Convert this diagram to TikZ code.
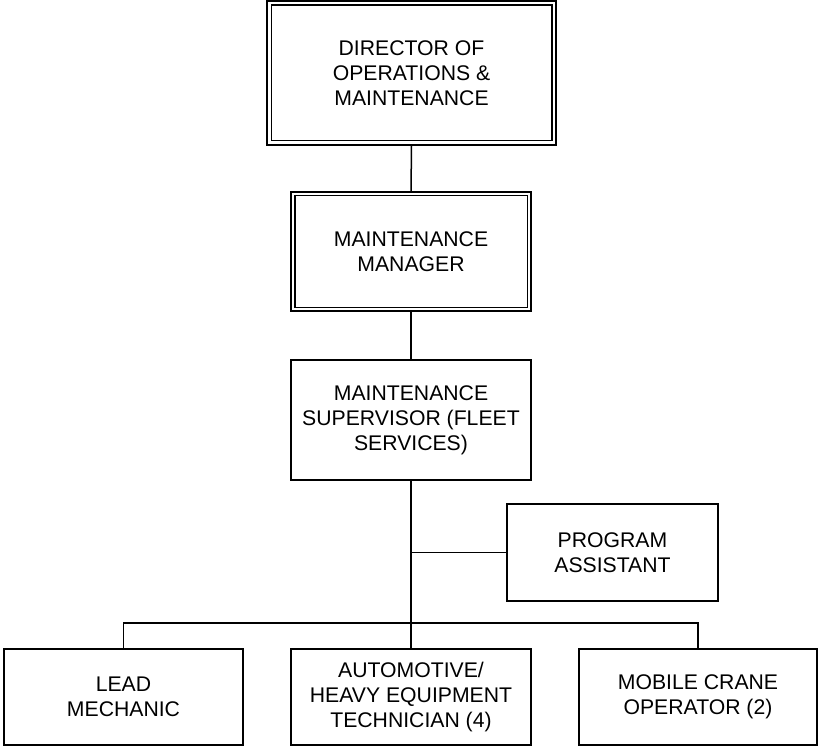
\documentclass[tikz,border=0pt]{standalone}
\usepackage{fontspec}
\setmainfont{Liberation Sans}
\begin{document}
\begin{tikzpicture}[x=1pt,y=-1pt,
  box/.style={draw, line width=1.5pt, inner sep=0pt, align=center,
    font=\fontsize{21.2}{24.8}\selectfont},
  conn/.style={line width=1.5pt}]
\useasboundingbox (0,0) rectangle (819,746);
\node[box, minimum width=289pt, minimum height=144pt] (dir) at (411.5,73) {DIRECTOR OF\\OPERATIONS \&\\MAINTENANCE};
\draw[line width=1.5pt] ([shift={(5pt,-5pt)}]dir.north west) rectangle ([shift={(-5pt,5pt)}]dir.south east);
\node[box, minimum width=240pt, minimum height=119pt] (mgr) at (411,251.5) {MAINTENANCE\\MANAGER};
\draw[line width=1.5pt] ([shift={(4.5pt,-4.5pt)}]mgr.north west) rectangle ([shift={(-4.5pt,4.5pt)}]mgr.south east);
\node[box, minimum width=240pt, minimum height=120pt] (sup) at (411,420) {MAINTENANCE\\SUPERVISOR (FLEET\\SERVICES)};
\node[box, minimum width=211pt, minimum height=97pt] (pa) at (612.5,552.5) {PROGRAM\\ASSISTANT};
\node[box, minimum width=239pt, minimum height=96pt] (lead) at (123.5,697) {LEAD\\MECHANIC};
\node[box, minimum width=240pt, minimum height=96pt] (auto) at (411,697) {AUTOMOTIVE/\\HEAVY EQUIPMENT\\TECHNICIAN (4)};
\node[box, minimum width=238pt, minimum height=96pt] (mob) at (698,697) {MOBILE CRANE\\OPERATOR (2)};
\coordinate (bus) at (411,623);
\draw[conn] (dir.south) -- (mgr.north);
\draw[conn] (mgr.south) -- (sup.north);
\draw[conn] (sup.south) -- (auto.north);
\draw[conn] (pa.west) -- (sup.south |- pa.west);
\draw[conn] (lead.north) |- (bus) -| (mob.north);
\end{tikzpicture}
\end{document}
